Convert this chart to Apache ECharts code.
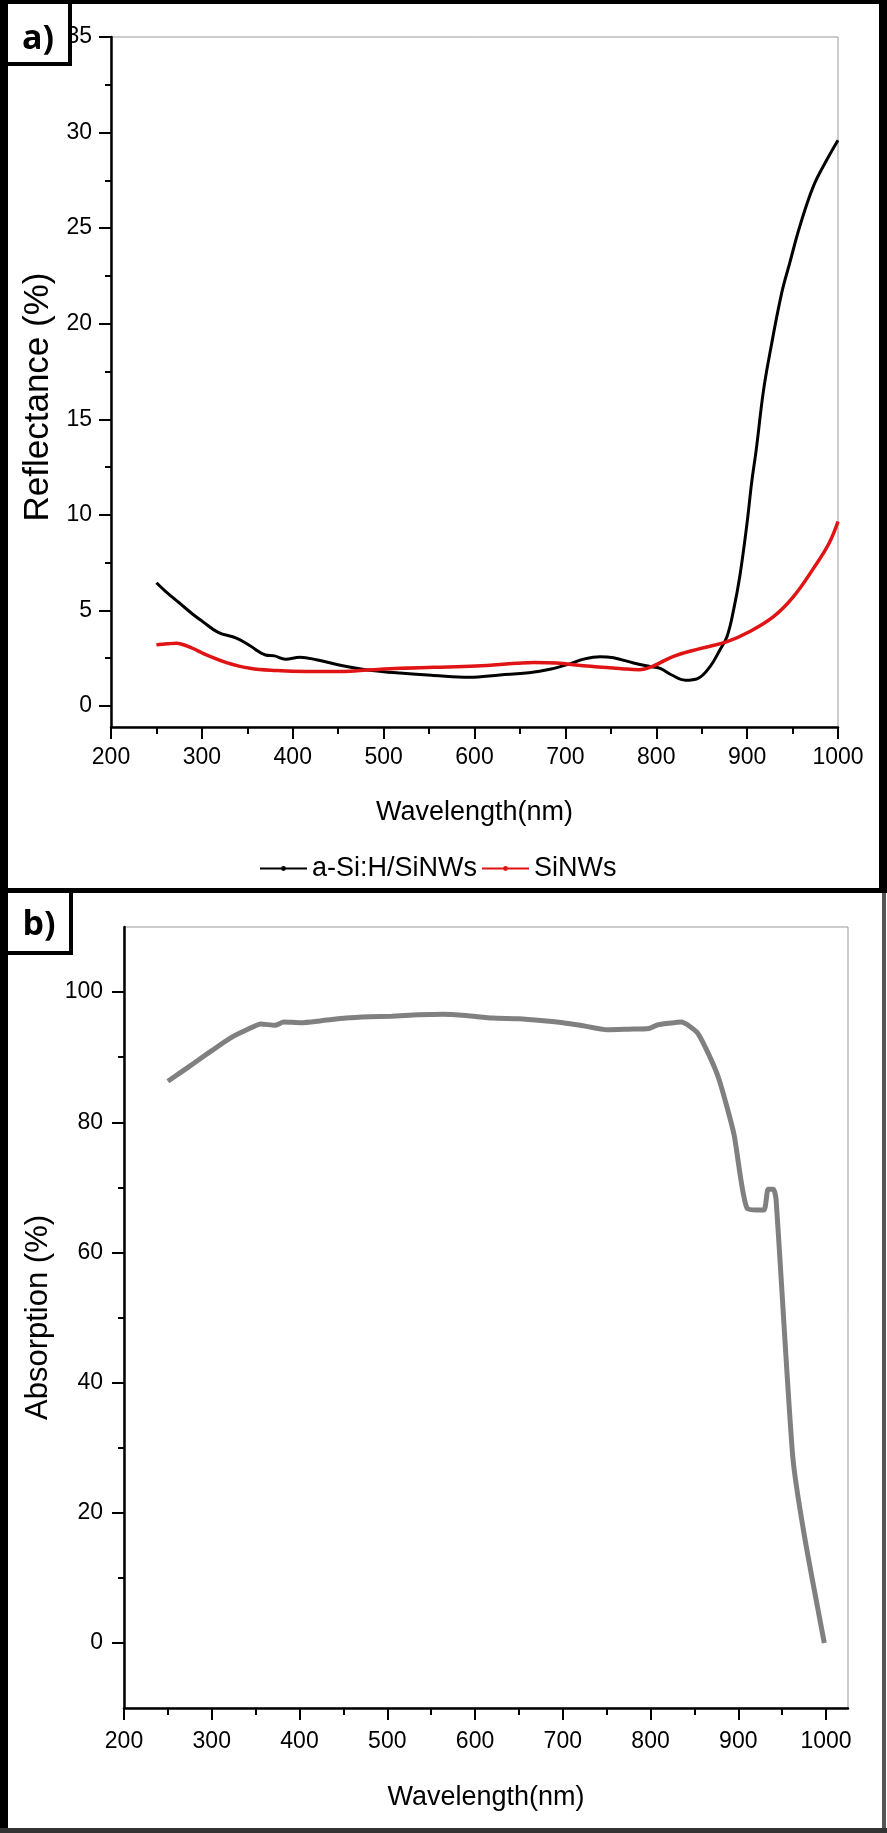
<!DOCTYPE html>
<html>
<head>
<meta charset="utf-8">
<script src="https://cdn.jsdelivr.net/npm/echarts@6/dist/echarts.min.js"></script>
<style>
  html, body { margin: 0; padding: 0; background: #fff; }
  #container { width: 887px; height: 1833px; }
</style>
</head>
<body>
<div id="container"></div>
<script>
// panel a: reflectance
var reflWave = [250, 260, 275, 290, 300, 318, 338, 353, 370, 380, 392, 408, 426, 455, 480, 518, 555, 594, 628, 660, 683, 705, 720, 738, 753, 775, 795, 805, 817, 832, 846, 859, 870, 878, 885, 892, 900, 905, 910, 918, 926, 938, 947, 958, 973, 988, 1000];
var reflCoated = [6.45, 6.0, 5.4, 4.8, 4.45, 3.85, 3.55, 3.15, 2.67, 2.62, 2.45, 2.55, 2.42, 2.1, 1.9, 1.72, 1.6, 1.5, 1.62, 1.74, 1.92, 2.2, 2.45, 2.58, 2.52, 2.25, 2.05, 1.95, 1.62, 1.35, 1.45, 2.05, 2.93, 3.65, 5.0, 6.8, 9.6, 11.7, 13.4, 16.5, 18.7, 21.6, 23.2, 25.1, 27.2, 28.6, 29.6];

var bareWave = [250, 262, 272, 283, 295, 305, 327, 353, 382, 415, 452, 488, 518, 555, 602, 646, 665, 690, 720, 762, 781, 797, 819, 848, 878, 903, 929, 951, 973, 990, 1000];
var reflBare = [3.2, 3.25, 3.28, 3.15, 2.9, 2.67, 2.27, 1.97, 1.85, 1.8, 1.8, 1.9, 1.97, 2.02, 2.09, 2.23, 2.28, 2.25, 2.1, 1.95, 1.9, 2.1, 2.6, 3.0, 3.37, 3.9, 4.67, 5.72, 7.2, 8.5, 9.65];

// panel b: absorption
var absWave = [250, 265, 280, 300, 322, 340, 356, 372, 382, 401, 425, 453, 480, 505, 535, 563, 590, 620, 650, 678, 700, 720, 751, 775, 798, 809, 820, 835, 853, 866, 878, 895, 910, 929, 934, 940, 943, 962, 975, 998];
var absValues = [86.3, 87.7, 89.1, 91.0, 93.0, 94.2, 95.1, 94.9, 95.4, 95.3, 95.6, 96.0, 96.2, 96.3, 96.5, 96.6, 96.4, 96.0, 95.9, 95.6, 95.3, 94.9, 94.2, 94.3, 94.4, 95.0, 95.2, 95.4, 93.8, 90.5, 86.6, 78.2, 66.8, 66.5, 69.7, 69.7, 68.2, 28.7, 16.7, 0];

var xMajor = [200, 300, 400, 500, 600, 700, 800, 900, 1000];
var xMinor = [250, 350, 450, 550, 650, 750, 850, 950];
var reflMajor = [0, 5, 10, 15, 20, 25, 30, 35];
var reflMinor = [2.5, 7.5, 12.5, 17.5, 22.5, 27.5, 32.5];
var absMajor = [0, 20, 40, 60, 80, 100];
var absMinor = [10, 30, 50, 70, 90];

function pairs(xs, ys) {
    return xs.map(function (x, i) { return [x, ys[i]]; });
}
function plain(v) { return String(v); }

var sans = "'Liberation Sans', Arial, sans-serif";

function mainX(grid, min, max, labelMargin, nameGap) {
    return {
        type: 'value', gridIndex: grid, min: min, max: max, position: 'bottom',
        axisLine: { show: true, onZero: false, lineStyle: { color: '#000', width: 2.5 } },
        axisTick: { show: true, customValues: xMajor, length: 12, lineStyle: { color: '#000', width: 2 } },
        axisLabel: { customValues: xMajor, formatter: plain, margin: labelMargin, color: '#000', fontFamily: sans, fontSize: 23 },
        splitLine: { show: false },
        name: 'Wavelength(nm)', nameLocation: 'middle', nameGap: nameGap,
        nameTextStyle: { color: '#000', fontFamily: sans, fontSize: 27 }
    };
}
function minorX(grid, min, max) {
    return {
        type: 'value', gridIndex: grid, min: min, max: max, position: 'bottom',
        axisLine: { show: false, onZero: false },
        axisTick: { show: true, customValues: xMinor, length: 7, lineStyle: { color: '#000', width: 2 } },
        axisLabel: { show: false }, splitLine: { show: false }
    };
}
function mainY(grid, min, max, major, labelMargin, name, nameSize, nameGap, namePad) {
    return {
        type: 'value', gridIndex: grid, min: min, max: max, position: 'left',
        axisLine: { show: true, onZero: false, lineStyle: { color: '#000', width: 2.5 } },
        axisTick: { show: true, customValues: major, length: 12, lineStyle: { color: '#000', width: 2 } },
        axisLabel: { customValues: major, formatter: plain, margin: labelMargin, color: '#000', fontFamily: sans, fontSize: 23 },
        splitLine: { show: false },
        name: name, nameLocation: 'middle', nameGap: nameGap,
        nameTextStyle: { color: '#000', fontFamily: sans, fontSize: nameSize, padding: namePad }
    };
}
function minorY(grid, min, max, minor) {
    return {
        type: 'value', gridIndex: grid, min: min, max: max, position: 'left',
        axisLine: { show: false, onZero: false },
        axisTick: { show: true, customValues: minor, length: 6, lineStyle: { color: '#000', width: 2 } },
        axisLabel: { show: false }, splitLine: { show: false }
    };
}

var myChart = echarts.init(document.getElementById('container'));

var option = {
    backgroundColor: '#fff',
    animation: false,
    grid: [
        { left: 111, top: 37, width: 727, height: 690, show: true, borderColor: '#999', borderWidth: 1 },
        { left: 124, top: 927, width: 724, height: 781, show: true, borderColor: '#999', borderWidth: 1 }
    ],
    xAxis: [
        mainX(0, 200, 1000, 19, 72),
        minorX(0, 200, 1000),
        mainX(1, 200, 1025, 22, 76),
        minorX(1, 200, 1025)
    ],
    yAxis: [
        mainY(0, -1.1, 35, reflMajor, 19, 'Reflectance (%)', 35, 51, [0, 30, 0, 0]),
        minorY(0, -1.1, 35, reflMinor),
        mainY(1, -10, 110, absMajor, 21, 'Absorption (%)', 31, 56, 0),
        minorY(1, -10, 110, absMinor)
    ],
    legend: {
        left: 259, top: 855, padding: 0,
        itemWidth: 47, itemHeight: 6, itemGap: 4,
        textStyle: { color: '#000', fontFamily: sans, fontSize: 27 },
        data: ['a-Si:H/SiNWs', 'SiNWs']
    },
    series: [
        {
            name: 'a-Si:H/SiNWs', type: 'line', xAxisIndex: 0, yAxisIndex: 0,
            data: pairs(reflWave, reflCoated), smooth: 0.4,
            symbol: 'circle', symbolSize: 5, showSymbol: false,
            color: '#000', lineStyle: { color: '#000', width: 3 }
        },
        {
            name: 'SiNWs', type: 'line', xAxisIndex: 0, yAxisIndex: 0,
            data: pairs(bareWave, reflBare), smooth: 0.4,
            symbol: 'circle', symbolSize: 5, showSymbol: false,
            color: '#e01414', lineStyle: { color: '#e01414', width: 3.5 }
        },
        {
            name: 'Absorption', type: 'line', xAxisIndex: 2, yAxisIndex: 2,
            data: pairs(absWave, absValues), smooth: 0.2,
            showSymbol: false,
            color: '#808080', lineStyle: { color: '#808080', width: 5 }
        }
    ],
    graphic: [
        // panel frames
        { type: 'rect', shape: { x: 0, y: 0, width: 887, height: 4 }, style: { fill: '#000' }, z: 100 },
        { type: 'rect', shape: { x: 0, y: 0, width: 8, height: 1833 }, style: { fill: '#000' }, z: 100 },
        { type: 'rect', shape: { x: 879, y: 0, width: 8, height: 893 }, style: { fill: '#000' }, z: 100 },
        { type: 'rect', shape: { x: 0, y: 888, width: 887, height: 5 }, style: { fill: '#000' }, z: 100 },
        { type: 'rect', shape: { x: 882, y: 893, width: 4, height: 940 }, style: { fill: '#555' }, z: 100 },
        { type: 'rect', shape: { x: 0, y: 1828, width: 887, height: 5 }, style: { fill: '#333' }, z: 100 },
        // label boxes
        { type: 'rect', shape: { x: 8, y: 4, width: 64, height: 62 }, style: { fill: '#000' }, z: 101 },
        { type: 'rect', shape: { x: 8, y: 4, width: 60, height: 58 }, style: { fill: '#fff' }, z: 102 },
        { type: 'text', z: 103,
          style: { x: 38, y: 39, text: 'a)', align: 'center', verticalAlign: 'middle', fill: '#000',
                   font: "bold 34px 'Open Sans', 'Liberation Sans', sans-serif" } },
        { type: 'rect', shape: { x: 8, y: 893, width: 65, height: 62 }, style: { fill: '#000' }, z: 101 },
        { type: 'rect', shape: { x: 8, y: 893, width: 61, height: 58 }, style: { fill: '#fff' }, z: 102 },
        { type: 'text', z: 103,
          style: { x: 39, y: 925, text: 'b)', align: 'center', verticalAlign: 'middle', fill: '#000',
                   font: "bold 34px 'Open Sans', 'Liberation Sans', sans-serif" } }
    ]
};

myChart.setOption(option);
window.onresize = function () {
    myChart.resize();
};
</script>
</body>
</html>
